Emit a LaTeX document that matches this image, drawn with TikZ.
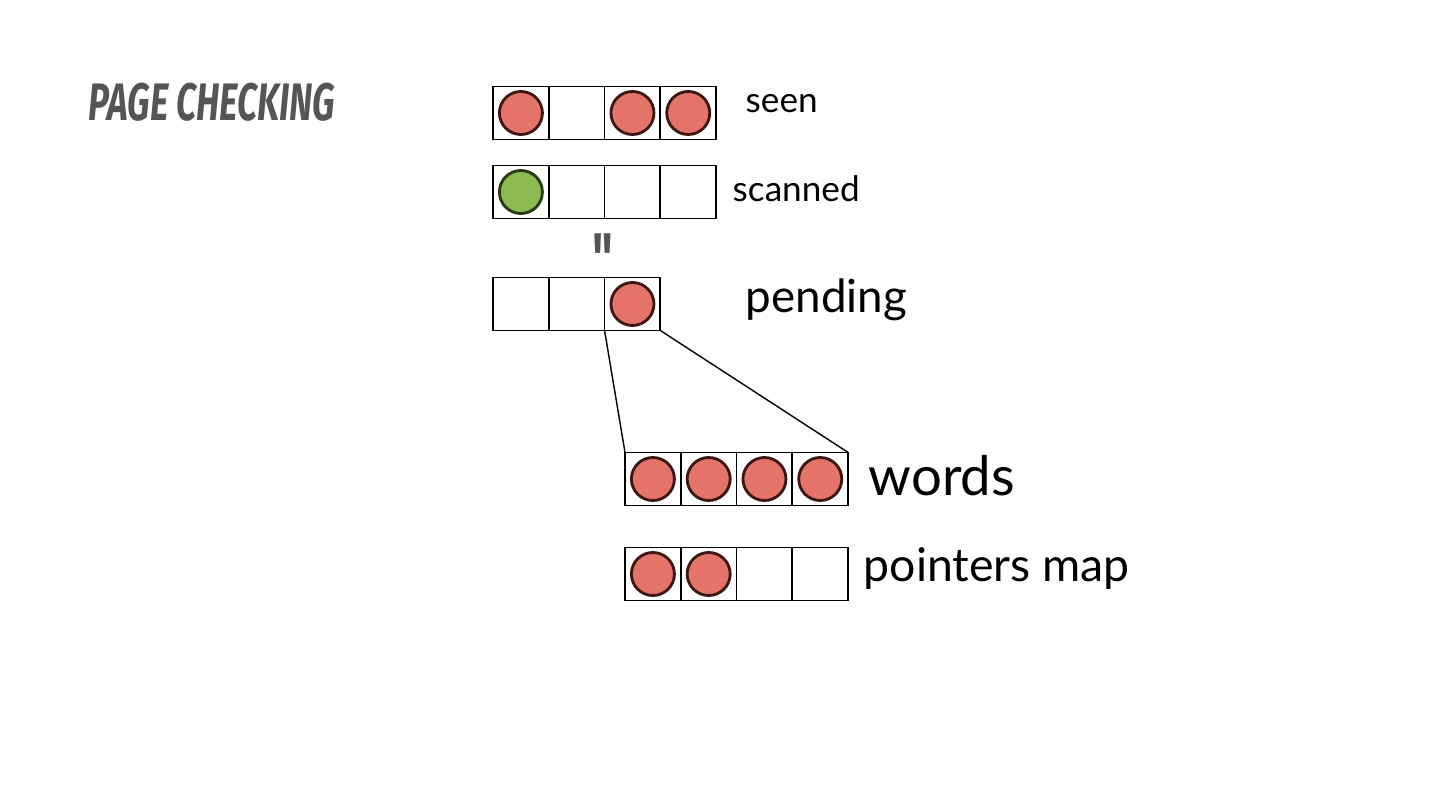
\documentclass[tikz,border=0pt]{standalone}
\usepackage{fontspec}
\setmainfont{Lato}
\newfontfamily\titlefont[FakeStretch=0.67]{Fira Sans}
\usepackage{xcolor}
\usetikzlibrary{positioning, calc}

\definecolor{dotred}{RGB}{228,116,106}
\definecolor{dotredline}{RGB}{60,22,16}
\definecolor{dotgreen}{RGB}{140,185,80}
\definecolor{dotgreenline}{RGB}{40,55,20}
\definecolor{titlegray}{RGB}{85,85,85}

\tikzset{
  cell/.style={draw, line width=0.5pt, minimum width=0.5575cm, minimum height=0.53cm, inner sep=0pt, outer sep=0pt},
  reddot/.style={circle, draw=dotredline, line width=0.8pt, fill=dotred, minimum size=0.43cm, inner sep=0pt},
  greendot/.style={circle, draw=dotgreenline, line width=0.8pt, fill=dotgreen, minimum size=0.43cm, inner sep=0pt},
  lbl/.style={anchor=west, inner sep=0pt}
}

\begin{document}
\begin{tikzpicture}[x=0.01cm, y=-0.01cm]
  \useasboundingbox (0,0) rectangle (1440,810);

  % Titel
  \node[lbl, text=titlegray] (title) at (88,102) {\titlefont\bfseries\itshape\fontsize{15}{15}\selectfont PAGE CHECKING};

  % seen
  \node[cell, anchor=west] (seen-1) at (493,113) {};
  \foreach \i [remember=\i as \j (initially 1)] in {2,3,4}
    \node[cell, right=0pt of seen-\j] (seen-\i) {};
  \foreach \i in {1,3,4}
    \node[reddot] at (seen-\i) {};
  \node[lbl] (seenlbl) at (745,104) {\fontsize{10}{10}\selectfont seen};

  % scanned
  \node[cell, anchor=west] (scan-1) at (493,192) {};
  \foreach \i [remember=\i as \j (initially 1)] in {2,3,4}
    \node[cell, right=0pt of scan-\j] (scan-\i) {};
  \node[greendot] at (scan-1) {};
  \node[lbl] (scanlbl) at (732,189) {\fontsize{10}{10}\selectfont scanned};

  % ditto
  \node[text=titlegray] (ditto) at (603,258) {\titlefont\bfseries\fontsize{20}{20}\selectfont "};

  % pending
  \node[cell, anchor=west] (pend-1) at (493,304) {};
  \foreach \i [remember=\i as \j (initially 1)] in {2,3}
    \node[cell, right=0pt of pend-\j] (pend-\i) {};
  \node[reddot] at (pend-3) {};
  \node[lbl] (pendlbl) at (745,300) {\fontsize{13}{13}\selectfont pending};

  % words
  \node[cell, anchor=west] (words-1) at (625,479) {};
  \foreach \i [remember=\i as \j (initially 1)] in {2,3,4}
    \node[cell, right=0pt of words-\j] (words-\i) {};
  \foreach \i in {1,...,4}
    \node[reddot] at (words-\i) {};
  \node[lbl] (wordslbl) at (868,476) {\fontsize{15.5}{15.5}\selectfont words};

  % pointers map
  \node[cell, anchor=west] (ptr-1) at (625,574) {};
  \foreach \i [remember=\i as \j (initially 1)] in {2,3,4}
    \node[cell, right=0pt of ptr-\j] (ptr-\i) {};
  \foreach \i in {1,2}
    \node[reddot] at (ptr-\i) {};
  \node[lbl] (ptrlbl) at (863,569) {\fontsize{13.2}{13.2}\selectfont pointers map};

  % Zoom-Linien
  \draw[line width=0.4pt] (pend-3.south west) -- (words-1.north west);
  \draw[line width=0.4pt] (pend-3.south east) -- (words-4.north east);
\end{tikzpicture}
\end{document}
